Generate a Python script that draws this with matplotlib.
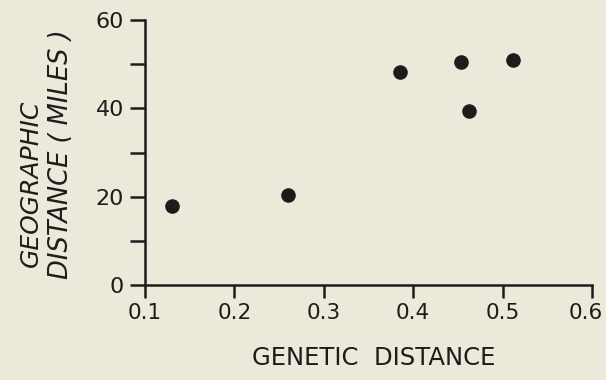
import matplotlib
matplotlib.use("Agg")
import matplotlib.pyplot as plt
import matplotlib.transforms as mtransforms
from matplotlib.ticker import MultipleLocator

# genetic vs geographic distance between populations
genetic = [0.130, 0.260, 0.385, 0.454, 0.462, 0.512]
geographic = [17.9, 20.4, 48.2, 50.4, 39.4, 51.0]

xticks = [0.1, 0.2, 0.3, 0.4, 0.5, 0.6]
xticklabels = ["0.1", "0.2", "0.3", "0.4", "0.5", "0.6"]
yticks = [0, 20, 40, 60]

bg = "#EBE9D9"
ink = "#1c1c1c"
font = "DejaVu Sans"

fig = plt.figure(figsize=(6.06, 3.8), dpi=100, facecolor=bg)
ax = fig.add_axes([145/606, 1 - 285/380, (592-145)/606, (285-20)/380])
ax.set_facecolor(bg)

ax.scatter(genetic, geographic, s=90, color=ink, zorder=3, clip_on=False)

ax.set_xlim(0.1, 0.6)
ax.set_ylim(0, 60)

for s in ["top", "right"]:
    ax.spines[s].set_visible(False)
for s in ["left", "bottom"]:
    ax.spines[s].set_linewidth(1.8)
    ax.spines[s].set_color(ink)

ax.set_xticks(xticks)
ax.set_xticklabels(xticklabels, fontfamily=font, fontsize=15.5, color=ink)
ax.set_yticks(yticks)
ax.set_yticklabels([str(v) for v in yticks], fontfamily=font, fontsize=16, color=ink)
ax.yaxis.set_minor_locator(MultipleLocator(10))

ax.tick_params(axis="both", which="both", direction="out", width=1.8, color=ink)
ax.tick_params(axis="x", length=9, pad=4)
ax.tick_params(axis="y", which="both", length=11, pad=4)

# last x label sits a bit to the left so it stays on the page
last = ax.get_xticklabels()[-1]
last.set_transform(last.get_transform() +
                   mtransforms.ScaledTranslation(-6/100, 0, fig.dpi_scale_trans))

fig.text(374/606, 1 - 358/380, "GENETIC  DISTANCE", fontfamily=font, fontsize=17.5,
         color=ink, ha="center", va="center")
fig.text(31/606, 1 - 183/380, "GEOGRAPHIC", fontfamily=font, fontstyle="italic",
         fontsize=18, color=ink, rotation=90, ha="center", va="center")
fig.text(61/606, 1 - 154/380, "DISTANCE ( MILES )", fontfamily=font, fontstyle="italic",
         fontsize=18.5, color=ink, rotation=90, ha="center", va="center")

fig.savefig("out.png", dpi=100, facecolor=bg)
